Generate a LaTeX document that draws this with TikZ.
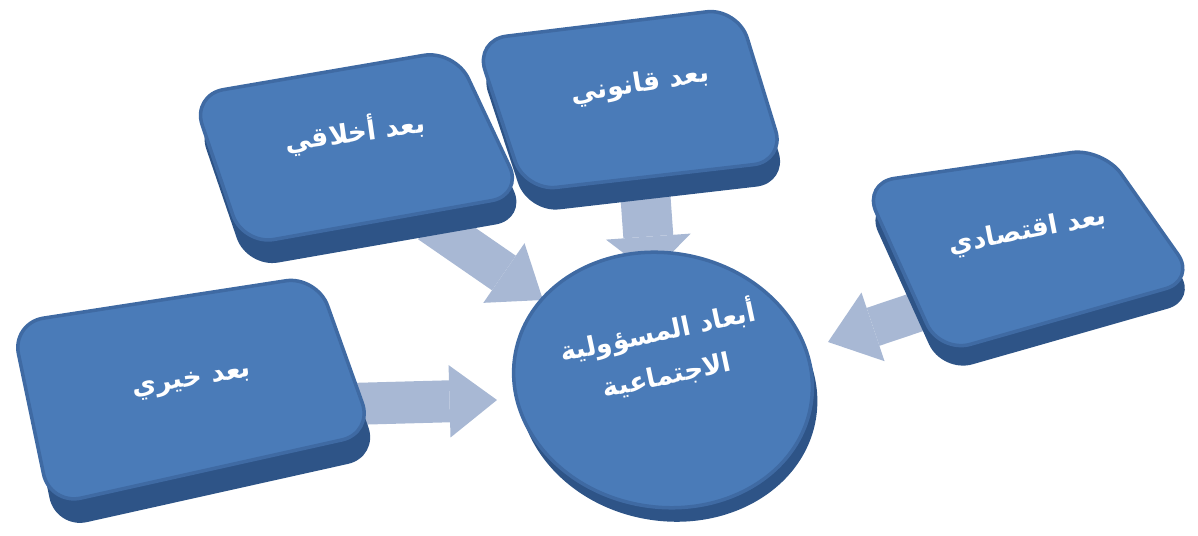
\documentclass[tikz,border=0pt]{standalone}
\usepackage{fontspec}
\newfontfamily\arabicfont[Script=Arabic]{DejaVu Sans}
\TeXXeTstate=1
\usetikzlibrary{arrows.meta}
\definecolor{faceBlue}{HTML}{4A7BB8}
\definecolor{rimBlue}{HTML}{3F6AA3}
\definecolor{sideBlue}{HTML}{2E5487}
\definecolor{arrowGrey}{HTML}{A8B8D4}
\begin{document}
\begin{tikzpicture}[x=0.02cm,y=-0.02cm,
    dimSide/.style={fill=sideBlue,rounded corners=18pt},
    dimFace/.style={fill=faceBlue,draw=rimBlue,line width=2pt,rounded corners=18pt},
    dimText/.style={font=\arabicfont\bfseries\fontsize{15}{25}\selectfont,text=white,align=center},
    dimArrow/.style={draw=arrowGrey,line width=0.84cm,-{Triangle[length=0.95cm,width=1.45cm,line width=0pt]}},
]
\useasboundingbox (0,0) rectangle (1198,536);

% arrows (behind the shapes)
\coordinate (khayriOut) at (350,404);
\coordinate (khayriTip) at (497,400);
\coordinate (akhlaqiOut) at (430,222);
\coordinate (akhlaqiTip) at (543,300);
\coordinate (qanuniOut) at (645,190);
\coordinate (qanuniTip) at (651,274);
\coordinate (iqtisadiOut) at (935,306);
\coordinate (iqtisadiTip) at (828,342);
\draw[dimArrow] (khayriOut) -- (khayriTip);
\draw[dimArrow] (akhlaqiOut) -- (akhlaqiTip);
\draw[dimArrow,line width=1cm,-{Triangle[length=0.75cm,width=1.7cm,line width=0pt]}] (qanuniOut) -- (qanuniTip);
\draw[dimArrow,line width=0.8cm] (iqtisadiOut) -- (iqtisadiTip);

% boxes
\fill[dimSide] (18,347) -- (323,300) -- (379,457) -- (56,529) -- cycle;
\fill[dimFace] (12,323) -- (317,276) -- (373,433) -- (50,505) -- cycle;
\node[dimText,rotate=9] (khayri) at (192,382) {\beginR بعد خيري\endR};

\fill[dimSide] (196,119) -- (459,73) -- (527,219) -- (247,268) -- cycle;
\fill[dimFace] (192,95) -- (455,50) -- (523,195) -- (243,245) -- cycle;
\node[dimText,rotate=8] (akhlaqi) at (355,132) {\beginR بعد أخلاقي\endR};

\fill[dimSide] (478,62) -- (741,30) -- (788,183) -- (528,213) -- cycle;
\fill[dimFace] (475,40) -- (738,8) -- (785,161) -- (525,191) -- cycle;
\node[dimText,rotate=9] (qanuni) at (640,85) {\beginR بعد قانوني\endR};

\fill[dimSide] (865,203) -- (1105,168) -- (1198,300) -- (942,373) -- cycle;
\fill[dimFace] (863,183) -- (1103,148) -- (1196,280) -- (940,353) -- cycle;
\node[dimText,rotate=11] (iqtisadi) at (1028,232) {\beginR بعد اقتصادي\endR};

% centre disc
\fill[sideBlue,rotate around={-10:(668,394)}] (668,394) ellipse [x radius=150, y radius=127];
\filldraw[fill=faceBlue,draw=rimBlue,line width=2pt,rotate around={-10:(663,380)}] (663,380) ellipse [x radius=150, y radius=127];
\node[dimText,rotate=12] (masuliya) at (662,352) {\beginR أبعاد المسؤولية\endR\\\beginR الاجتماعية\endR};
\end{tikzpicture}
\end{document}
